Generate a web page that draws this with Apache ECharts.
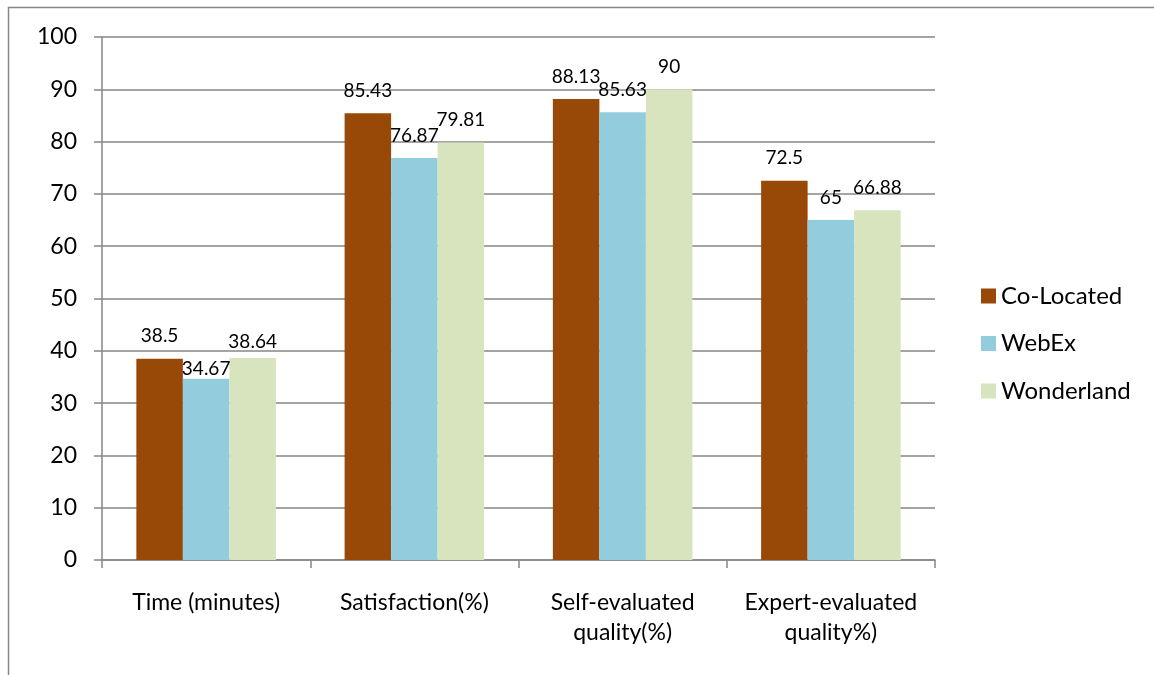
<!DOCTYPE html>
<html>
<head>
<meta charset="utf-8">
<script src="https://cdn.jsdelivr.net/npm/echarts@6/dist/echarts.min.js"></script>
<style>
html, body { margin: 0; padding: 0; background: #fff; }
#plot { width: 1154px; height: 675px; }
</style>
</head>
<body>
<div id="plot"></div>
<script>
var categories = ['Time (minutes)', 'Satisfaction(%)', 'Self-evaluated\nquality(%)', 'Expert-evaluated\nquality%)'];
var seriesNames = ['Co-Located', 'WebEx', 'Wonderland'];
var coLocated = [38.5, 85.43, 88.13, 72.5];
var webEx = [34.67, 76.87, 85.63, 65];
var wonderland = [38.64, 79.81, 90, 66.88];
var colors = ['#984807', '#93CDDD', '#D7E4BD'];

var font = 'Lato, "Open Sans", sans-serif';
var values = [coLocated, webEx, wonderland];

// a couple of labels in the first group were nudged down in the original
function labelDistance(s, j) {
	if (j === 0 && s === 1) return 0;
	if (j === 0 && s === 2) return 7;
	return 13;
}

var series = [];
for (var i = 0; i < seriesNames.length; i++) {
	var items = [];
	for (var j = 0; j < values[i].length; j++) {
		items.push({ value: values[i][j], label: { distance: labelDistance(i, j) } });
	}
	series.push({
		name: seriesNames[i],
		type: 'bar',
		data: items,
		barGap: '0%',
		barCategoryGap: '33%',
		itemStyle: { color: colors[i] },
		label: {
			show: true,
			position: 'top',
			color: '#000',
			fontFamily: font,
			fontSize: 19
		}
	});
}

var option = {
	animation: false,
	backgroundColor: '#fff',
	color: colors,
	graphic: [{
		type: 'rect',
		shape: { x: 8.5, y: 7.5, width: 1300, height: 800 },
		style: { fill: 'none', stroke: '#868686', lineWidth: 1.5 },
		silent: true
	}],
	grid: { left: 102, top: 37, right: 219, bottom: 115 },
	legend: {
		orient: 'vertical',
		left: 976,
		top: 279,
		itemWidth: 15,
		itemHeight: 15,
		itemGap: 23.5,
		icon: 'rect',
		textStyle: { color: '#000', fontFamily: font, fontSize: 24, lineHeight: 24 },
		data: seriesNames
	},
	xAxis: {
		type: 'category',
		data: categories,
		axisLine: { lineStyle: { color: '#868686', width: 1.5 } },
		axisTick: { show: true, length: 8, lineStyle: { color: '#868686', width: 1.5 } },
		axisLabel: {
			color: '#000',
			fontFamily: font,
			fontSize: 23,
			lineHeight: 30,
			margin: 28,
			interval: 0
		}
	},
	yAxis: {
		type: 'value',
		min: 0,
		max: 100,
		interval: 10,
		axisLine: { show: true, lineStyle: { color: '#868686', width: 1.5 } },
		axisTick: { show: true, length: 8, lineStyle: { color: '#868686', width: 1.5 } },
		splitLine: { lineStyle: { color: '#868686', width: 1.5 } },
		axisLabel: { color: '#000', fontFamily: font, fontSize: 23, margin: 25 }
	},
	series: series
};

var myChart = echarts.init(document.getElementById('plot'));
myChart.setOption(option);
</script>
</body>
</html>
